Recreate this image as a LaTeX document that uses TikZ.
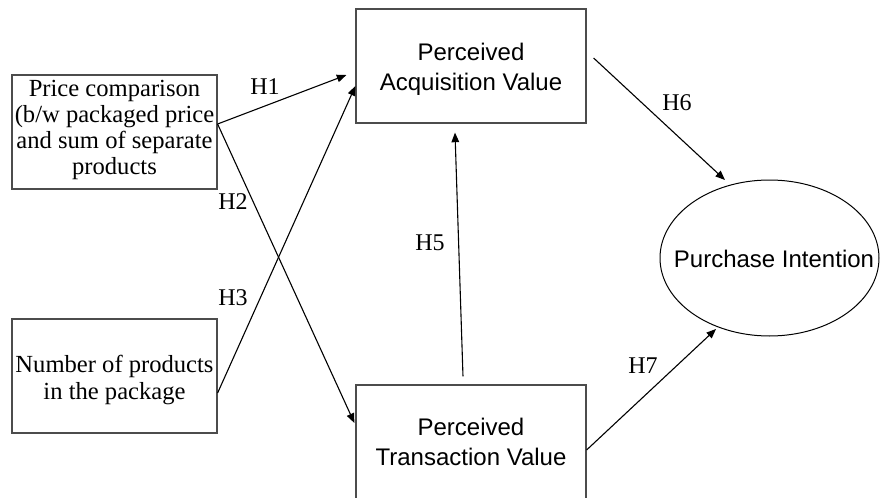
\documentclass[tikz,border=0pt]{standalone}
\usepackage{fontspec}
\setmainfont{Liberation Serif}
\newfontfamily\arialfont{Liberation Sans}
\usetikzlibrary{arrows.meta,calc,shapes.geometric}

\tikzset{
  frame/.style={draw=black!70, line width=0.6pt, inner sep=0pt},
  serifbox/.style={frame, minimum width=102.5pt, minimum height=57pt},
  sansbox/.style={frame, minimum width=115pt, minimum height=57pt},
  seriftext/.style={inner sep=0pt, align=center,
    font=\fontsize{12.3pt}{13pt}\selectfont},
  sanstext/.style={inner sep=0pt, align=center,
    font=\arialfont\fontsize{12pt}{14.8pt}\selectfont},
  oval/.style={draw, ellipse, line width=0.5pt, inner sep=0pt,
    minimum width=109.5pt, minimum height=78pt},
  hyp/.style={inner sep=0pt, font=\fontsize{12pt}{14pt}\selectfont},
  path/.style={line width=0.55pt, -{Triangle[length=4.8pt,width=3.8pt]}}
}

\begin{document}
\begin{tikzpicture}[x=0.5pt,y=-0.5pt]
  \useasboundingbox (0,0) rectangle (880,498);
  \clip (0,0) rectangle (880,498);

  % constructs: frames
  \node[serifbox] (pc) at (114.5,132) {};
  \node[serifbox] (np) at (114.5,376) {};
  \node[sansbox] (acq) at (471,66) {};
  \node[sansbox] (trans) at (471,442) {};
  \node[oval] (pi) at (769.5,258) {};

  % constructs: wording
  \node[seriftext] (pctext) at ($(pc)+(0,-2)$)
    {Price comparison\\(b/w packaged price\\and sum of separate\\products};
  \node[seriftext, font=\fontsize{12.3pt}{13.6pt}\selectfont] (nptext)
    at ($(np)+(0,4)$) {Number of products\\in the package};
  \node[sanstext] (acqtext) at ($(acq)+(0,3)$) {Perceived\\Acquisition Value};
  \node[sanstext] (transtext) at ($(trans)+(0,0)$) {Perceived\\Transaction Value};
  \node[sanstext] (pitext) at (774,259) {Purchase Intention};

  % hypothesised paths
  \coordinate (pcout) at ($(pc.east)+(0,-8)$);
  \draw[path] (pcout) -- ($(acq.west)+(-9,9)$);
  \draw[path] (pcout) -- ($(trans.west)+(-1,-19)$);
  \draw[path] ($(np.east)+(0,17)$) -- ($(acq.west)+(0,20)$);
  \draw[path] ($(trans.north)+(-8,-8)$) -- ($(acq.south)+(-16,9)$);
  \draw[path] ($(acq.east)+(7,-8)$) -- ($(pi.center)+(-44.5,-78)$);
  \draw[path] ($(trans.east)+(0,8)$) -- ($(pi.center)+(-53.5,71)$);

  % path labels
  \node[hyp] (h1) at (265,87) {H1};
  \node[hyp] (h2) at (233,202) {H2};
  \node[hyp] (h3) at (233,298) {H3};
  \node[hyp] (h5) at (430,243) {H5};
  \node[hyp] (h6) at (677,103) {H6};
  \node[hyp] (h7) at (643,366) {H7};
\end{tikzpicture}
\end{document}
